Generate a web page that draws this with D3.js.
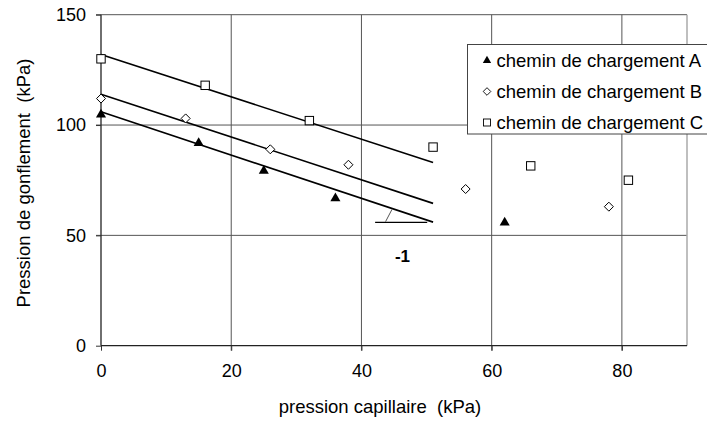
<!doctype html>
<html lang="fr">
<head>
<meta charset="utf-8">
<title>Pression de gonflement</title>
<style>
    html, body { margin: 0; padding: 0; background: #fff; overflow: hidden; }
    svg { display: block; font-family: "Liberation Sans", Arial, sans-serif; }
</style>
</head>
<body>
<svg id="chart" width="707" height="424"></svg>
<script src="https://cdn.jsdelivr.net/npm/d3@7"></script>
<script>
// values
const capA = [0, 15, 25, 36, 62];
const gonfA = [105, 92, 79.5, 67, 56];
const capB = [0, 13, 26, 38, 56, 78];
const gonfB = [112, 103, 89, 82, 71, 63];
const capC = [0, 16, 32, 51, 66, 81];
const gonfC = [130, 118, 102, 90, 81.5, 75];

// fitted lines, [x0, y0, x1, y1]
const trendA = [0, 106, 51, 56];
const trendB = [0, 114, 51, 64.5];
const trendC = [0, 132, 51, 83];

const xTicks = [0, 20, 40, 60, 80];
const yTicks = [0, 50, 100, 150];
const legendLabels = ["chemin de chargement A", "chemin de chargement B", "chemin de chargement C"];

const svg = d3.select("#chart");

const x = d3.scaleLinear().domain([0, 90]).range([101, 687]);
const y = d3.scaleLinear().domain([0, 150]).range([345.7, 14.7]);

// grid
const grid = svg.append("g");
grid.selectAll("line.v").data(xTicks.filter(d => d > 0)).enter().append("line")
    .attr("x1", d => x(d)).attr("x2", d => x(d))
    .attr("y1", y(150)).attr("y2", y(0) + 5)
    .attr("stroke", "#555").attr("stroke-width", 1);
grid.selectAll("line.h").data(yTicks.filter(d => d > 0)).enter().append("line")
    .attr("x1", x(0) - 5).attr("x2", x(90))
    .attr("y1", d => y(d)).attr("y2", d => y(d))
    .attr("stroke", "#555").attr("stroke-width", 1);
// right border
grid.append("line")
    .attr("x1", x(90)).attr("x2", x(90))
    .attr("y1", y(150)).attr("y2", y(0))
    .attr("stroke", "#aaa").attr("stroke-width", 1.5);

// axes
const xAxis = svg.append("g")
    .attr("transform", `translate(0,${y(0)})`)
    .call(d3.axisBottom(x).tickValues(xTicks).tickSize(5).tickPadding(14));
const yAxis = svg.append("g")
    .attr("transform", `translate(${x(0)},0)`)
    .call(d3.axisLeft(y).tickValues(yTicks).tickSize(5).tickPadding(10));
[xAxis, yAxis].forEach(a => {
    a.select(".domain").attr("stroke", "#222").attr("stroke-width", 1.3);
    a.selectAll(".tick line").attr("stroke", "#333");
    a.selectAll(".tick text")
        .attr("fill", "#000")
        .style("font-size", "18px")
        .style("font-family", "'Liberation Sans', Arial, sans-serif");
});
// keep axis ends flat
xAxis.select(".domain").attr("d", `M${x(0)},0H${x(90)}`);
yAxis.select(".domain").attr("d", `M0,${y(0)}V${y(150)}`);

// axis titles
svg.append("text")
    .attr("x", 380).attr("y", 413)
    .attr("text-anchor", "middle")
    .style("font-size", "18.5px")
    .style("white-space", "pre")
    .text("pression capillaire  (kPa)");
svg.append("text")
    .attr("transform", "translate(30,183) rotate(-90)")
    .attr("text-anchor", "middle")
    .style("font-size", "18.5px")
    .style("white-space", "pre")
    .text("Pression de gonflement  (kPa)");

// trend lines
const trends = svg.append("g");
[trendA, trendB, trendC].forEach(t => {
    trends.append("line")
        .attr("x1", x(t[0])).attr("y1", y(t[1]))
        .attr("x2", x(t[2])).attr("y2", y(t[3]))
        .attr("stroke", "#000").attr("stroke-width", 1.6);
});

// slope annotation
svg.append("line")
    .attr("x1", x(42.1)).attr("x2", x(50.1))
    .attr("y1", y(55.9)).attr("y2", y(55.9))
    .attr("stroke", "#000").attr("stroke-width", 1.3);
svg.append("line")
    .attr("x1", x(43.7)).attr("y1", y(56.2))
    .attr("x2", x(44.7)).attr("y2", y(61.8))
    .attr("stroke", "#555").attr("stroke-width", 1);
svg.append("text")
    .attr("x", x(46.3)).attr("y", 262)
    .attr("text-anchor", "middle")
    .style("font-size", "17px").style("font-weight", "bold")
    .text("-1");

// markers
const tri = d3.symbol().type(d3.symbolTriangle).size(44);
const dia = "M0,-4.5L4.5,0L0,4.5L-4.5,0Z";
const pts = svg.append("g");

pts.selectAll("path.a").data(d3.zip(capA, gonfA)).enter().append("path")
    .attr("d", tri)
    .attr("transform", d => `translate(${x(d[0])},${y(d[1]) + 0.5})`)
    .attr("fill", "#000");
pts.selectAll("path.b").data(d3.zip(capB, gonfB)).enter().append("path")
    .attr("d", dia)
    .attr("transform", d => `translate(${x(d[0])},${y(d[1])})`)
    .attr("fill", "#fff").attr("stroke", "#000").attr("stroke-width", 1);
pts.selectAll("rect.c").data(d3.zip(capC, gonfC)).enter().append("rect")
    .attr("x", d => x(d[0]) - 4.2).attr("y", d => y(d[1]) - 4.2)
    .attr("width", 8.4).attr("height", 8.4)
    .attr("fill", "#fff").attr("stroke", "#000").attr("stroke-width", 1);

// legend
const leg = svg.append("g");
leg.append("rect")
    .attr("x", 467.5).attr("y", 44.5)
    .attr("width", 245).attr("height", 89.5)
    .attr("fill", "#fff").attr("stroke", "#444").attr("stroke-width", 1);
const rowY = [60, 91.5, 122.5];
leg.append("path").attr("d", d3.symbol().type(d3.symbolTriangle).size(30))
    .attr("transform", `translate(487,${rowY[0] + 0.5})`).attr("fill", "#000");
leg.append("path").attr("d", "M0,-3.8L3.8,0L0,3.8L-3.8,0Z")
    .attr("transform", `translate(487,${rowY[1]})`)
    .attr("fill", "#fff").attr("stroke", "#000").attr("stroke-width", 0.9);
leg.append("rect").attr("x", 483.5).attr("y", rowY[2] - 3.5)
    .attr("width", 7).attr("height", 7)
    .attr("fill", "#fff").attr("stroke", "#000").attr("stroke-width", 0.9);
leg.selectAll("text").data(legendLabels).enter().append("text")
    .attr("x", 496.5)
    .attr("y", (d, i) => rowY[i] + 6.5)
    .style("font-size", "18.5px")
    .text(d => d);
</script>
</body>
</html>
